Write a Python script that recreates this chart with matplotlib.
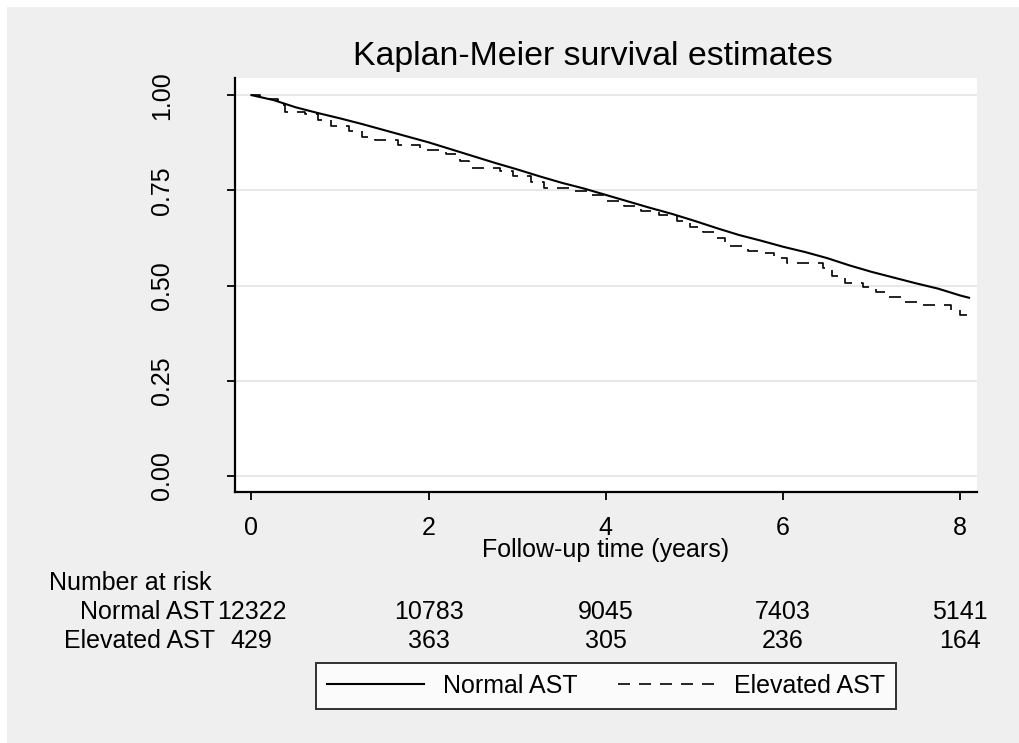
import numpy as np
import matplotlib.pyplot as plt
from matplotlib.patches import Rectangle
from matplotlib.transforms import blended_transform_factory

plt.rcParams['font.family'] = ['Liberation Sans', 'DejaVu Sans']

# Kaplan-Meier curves
t_normal = [0, 0.25, 0.5, 0.75, 1.0, 1.25, 1.5, 1.75, 2.0, 2.25, 2.5, 2.75, 3.0,
            3.25, 3.5, 3.75, 4.0, 4.25, 4.5, 4.75, 5.0, 5.25, 5.5, 5.75, 6.0,
            6.25, 6.5, 6.75, 7.0, 7.25, 7.5, 7.75, 8.0, 8.1]
s_normal = [1.000, 0.987, 0.968, 0.953, 0.939, 0.924, 0.908, 0.892, 0.876, 0.858,
            0.840, 0.822, 0.805, 0.787, 0.770, 0.755, 0.738, 0.721, 0.704, 0.688,
            0.670, 0.651, 0.633, 0.618, 0.602, 0.588, 0.572, 0.553, 0.536, 0.521,
            0.506, 0.492, 0.474, 0.468]

t_elev = [0, 0.1, 0.2, 0.3, 0.38, 0.6, 0.75, 0.9, 1.1, 1.25, 1.4, 1.65, 1.9, 2.2,
          2.35, 2.45, 2.8, 2.95, 3.15, 3.3, 3.6, 3.8, 4.0, 4.2, 4.4, 4.6, 4.8,
          4.95, 5.1, 5.25, 5.35, 5.6, 5.75, 5.9, 6.05, 6.45, 6.55, 6.7, 6.9,
          7.05, 7.2, 7.35, 7.55, 7.9, 8.0, 8.08]
s_elev = [1.0, 0.995, 0.99, 0.975, 0.957, 0.95, 0.935, 0.918, 0.905, 0.89, 0.882,
          0.868, 0.855, 0.845, 0.828, 0.81, 0.80, 0.787, 0.772, 0.757, 0.747,
          0.737, 0.722, 0.708, 0.696, 0.685, 0.67, 0.655, 0.64, 0.626, 0.603,
          0.592, 0.585, 0.572, 0.56, 0.545, 0.525, 0.507, 0.497, 0.484, 0.47,
          0.458, 0.448, 0.437, 0.424, 0.424]

risk_times = [0, 2, 4, 6, 8]
risk_normal = [12322, 10783, 9045, 7403, 5141]
risk_elev = [429, 363, 305, 236, 164]
groups = ['Normal AST', 'Elevated AST']

FS = 18
W, H = 1019, 743
fig = plt.figure(figsize=(W / 100, H / 100), dpi=100, facecolor='white')
fig.patches.append(Rectangle((7 / W, 0), 1 - 7 / W, 1 - 7 / H, transform=fig.transFigure,
                             facecolor='#efefef', edgecolor='none', zorder=-10))

ax = fig.add_axes([235 / W, 1 - 492 / H, (977 - 235) / W, (492 - 78) / H])
ax.set_facecolor('white')

ax.plot(t_normal, s_normal, color='black', lw=1.5, label=groups[0])
ax.plot(t_elev, s_elev, color='black', lw=1.2, drawstyle='steps-post',
        dashes=(7.2, 5.4), label=groups[1])

ax.set_xlim(-0.186, 8.19)
ax.set_ylim(-0.042, 1.045)
ax.set_xticks(risk_times)
ax.set_yticks([0, 0.25, 0.5, 0.75, 1.0])
ax.set_yticklabels(['0.00', '0.25', '0.50', '0.75', '1.00'], rotation=90, va='center')
ax.grid(axis='y', color='#e8e8e8', lw=1.5)
ax.set_axisbelow(True)
for s in ['top', 'right']:
    ax.spines[s].set_visible(False)
for s in ['left', 'bottom']:
    ax.spines[s].set_linewidth(1.6)
ax.tick_params(axis='both', length=6, width=1.3, labelsize=FS)
ax.tick_params(axis='x', pad=11)
ax.tick_params(axis='y', pad=38)

fig.text(593 / W, 1 - 56 / H, 'Kaplan-Meier survival estimates', fontsize=24.4,
         ha='center', va='center')
fig.text(606 / W, 1 - 550 / H, 'Follow-up time (years)', fontsize=FS,
         ha='center', va='center')

# number at risk table
tr = blended_transform_factory(ax.transData, fig.transFigure)
fig.text(49 / W, 1 - 583 / H, 'Number at risk', fontsize=FS, ha='left', va='center')
row_y = [1 - 612 / H, 1 - 641 / H]
for name, counts, y in zip(groups, [risk_normal, risk_elev], row_y):
    fig.text(215 / W, y, name, fontsize=FS, ha='right', va='center')
    for tt, n in zip(risk_times, counts):
        ax.text(tt, y, str(n), transform=tr, fontsize=FS, ha='center', va='center')

leg = fig.legend(loc='center', bbox_to_anchor=(606 / W, 1 - 686 / H), ncol=2,
                 fontsize=FS, frameon=True, fancybox=False, edgecolor='black',
                 handlelength=3.9, handletextpad=0.75, columnspacing=1.6,
                 borderpad=0.45)
leg.get_frame().set_linewidth(1.4)
leg.get_frame().set_facecolor('white')

fig.savefig('out.png', dpi=100, facecolor=fig.get_facecolor())
